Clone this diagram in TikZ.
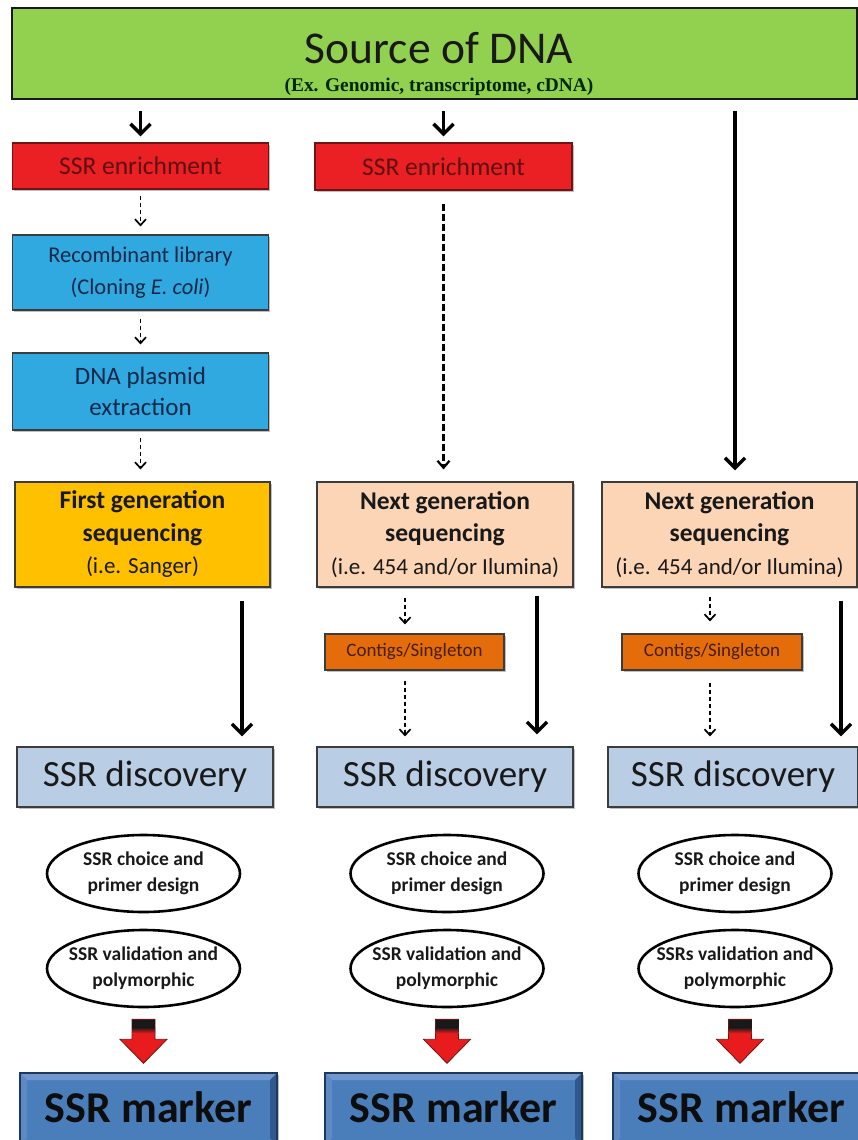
\documentclass[tikz,border=0pt]{standalone}
\usepackage{fontspec}
\setmainfont{Carlito}
\newfontfamily\serifb{Liberation Serif}
\usetikzlibrary{arrows.meta,shapes.geometric,shadows,calc}

\definecolor{cgreen}{RGB}{146,208,80}
\definecolor{cred}{RGB}{235,32,36}
\definecolor{credline}{RGB}{110,20,20}
\definecolor{credtext}{RGB}{95,15,15}
\definecolor{cblue}{RGB}{48,168,224}
\definecolor{cbluetext}{RGB}{18,40,72}
\definecolor{cyellow}{RGB}{255,192,0}
\definecolor{cpeach}{RGB}{251,213,181}
\definecolor{corange}{RGB}{228,108,10}
\definecolor{corangetext}{RGB}{70,30,5}
\definecolor{cdisc}{RGB}{185,205,229}
\definecolor{cmark}{RGB}{74,126,187}
\definecolor{cmarktop}{RGB}{112,152,206}
\definecolor{cmarkleft}{RGB}{92,138,196}
\definecolor{cmarkright}{RGB}{48,88,140}
\definecolor{cmarkline}{RGB}{30,55,90}
\definecolor{cline}{RGB}{60,60,60}
\definecolor{cblock}{RGB}{232,28,28}
\definecolor{ctext}{RGB}{25,25,25}

\begin{document}
\begin{tikzpicture}[x=1pt,y=-1pt,
  shadowed/.style={drop shadow={shadow xshift=1.5pt,shadow yshift=-1.5pt,opacity=0.25,fill=black}},
  box/.style={draw=cline,line width=1.1pt,inner sep=0pt,align=center,shadowed},
  bannerbox/.style={draw=black!90,line width=2.5pt,fill=cgreen,inner sep=0pt,minimum width=845pt,minimum height=91pt},
  enrbox/.style={box,fill=cred,draw=credline,text=credtext,font=\fontsize{25.5}{28}\selectfont,minimum height=46pt},
  libbox/.style={box,fill=cblue,text=cbluetext,minimum width=256pt},
  seqbox/.style={box,text=ctext,minimum height=105pt,font=\fontsize{23}{32.5}\selectfont},
  ctbox/.style={box,fill=corange,text=corangetext,minimum height=36pt,font=\fontsize{19}{22}\selectfont},
  discbox/.style={box,fill=cdisc,draw=cline,text=ctext,minimum height=60pt,font=\fontsize{37}{40}\selectfont},
  oval/.style={ellipse,draw=black,line width=2.6pt,fill=white,inner sep=0pt,minimum width=193pt,minimum height=77pt},
  ovaltext/.style={align=center,inner sep=0pt,text=ctext,font=\bfseries\fontsize{19.5}{26}\selectfont},
  markbox/.style={draw=cmarkline,line width=1.4pt,fill=cmark,inner sep=0pt,minimum width=257pt,minimum height=72pt,text=black!95,font=\bfseries\fontsize{44}{48}\selectfont,shadowed,
    path picture={
      \fill[cmarktop] (path picture bounding box.north west) -- (path picture bounding box.north east)
        -- ([shift={(-7pt,-7pt)}]path picture bounding box.north east) -- ([shift={(7pt,-7pt)}]path picture bounding box.north west) -- cycle;
      \fill[cmarkleft] (path picture bounding box.north west) -- ([shift={(7pt,-7pt)}]path picture bounding box.north west)
        -- ([shift={(7pt,7pt)}]path picture bounding box.south west) -- (path picture bounding box.south west) -- cycle;
      \fill[cmarkright] (path picture bounding box.north east) -- ([shift={(-7pt,-7pt)}]path picture bounding box.north east)
        -- ([shift={(-7pt,7pt)}]path picture bounding box.south east) -- (path picture bounding box.south east) -- cycle;
    }},
  thickarrow/.style={line width=3.5pt,-{Straight Barb[length=10pt,width=20pt]}},
  dasharrow/.style={line width=1.7pt,dash pattern=on 4.5pt off 2.5pt,-{Straight Barb[length=6pt,width=11pt]}},
  longdash/.style={line width=2.2pt,dash pattern=on 7pt off 3pt,-{Straight Barb[length=7pt,width=12pt]}},
  blockarrow/.style={fill=cblock,draw=credline,line width=0.8pt}
]
\useasboundingbox (0,0) rectangle (858,1140);

% banner
\node[bannerbox] (banner) at (434.5,53.5) {};
\node[text=ctext,font=\fontsize{45.5}{50}\selectfont,inner sep=0pt] (title) at (439,48) {Source of DNA};
\node[text=black!85!green,font=\serifb\bfseries\fontsize{19.4}{22}\selectfont,inner sep=0pt] (sub) at (439,87) {(Ex. Genomic, transcriptome, cDNA)};

% left column
\node[enrbox,minimum width=256pt] (enr1) at (140.5,166) {SSR enrichment};
\node[libbox,minimum height=75pt,font=\fontsize{22.5}{32}\selectfont] (rec) at (140.5,272.5) {Recombinant library\\(Cloning \emph{E. coli})};
\node[libbox,minimum height=77pt,font=\fontsize{25}{31}\selectfont] (dna) at (140.5,391.5) {DNA plasmid\\extraction};
\node[seqbox,fill=cyellow,minimum width=255pt] (fg) at (142.5,534.5) {{\bfseries\fontsize{25.5}{32.5}\selectfont First generation}\\{\bfseries\fontsize{25.5}{32.5}\selectfont sequencing}\\(i.e. Sanger)};

% middle column
\node[enrbox,minimum width=257pt,minimum height=47pt] (enr2) at (443.5,166.5) {SSR enrichment};
\node[seqbox,fill=cpeach,minimum width=256pt] (ng2) at (445,534.5) {{\bfseries\fontsize{25.5}{32.5}\selectfont Next generation}\\{\bfseries\fontsize{25.5}{32.5}\selectfont sequencing}\\(i.e. 454 and/or Ilumina)};
\node[ctbox,minimum width=179pt] (ct2) at (414.5,652) {Contigs/Singleton};

% right column
\node[seqbox,fill=cpeach,minimum width=255pt] (ng3) at (729.5,534.5) {{\bfseries\fontsize{25.5}{32.5}\selectfont Next generation}\\{\bfseries\fontsize{25.5}{32.5}\selectfont sequencing}\\(i.e. 454 and/or Ilumina)};
\node[ctbox,minimum width=180pt] (ct3) at (712,652) {Contigs/Singleton};

% SSR discovery
\node[discbox,minimum width=256pt] (sd1) at (145,777) {SSR discovery};
\node[discbox,minimum width=256pt] (sd2) at (445,777) {SSR discovery};
\node[discbox,minimum width=250pt] (sd3) at (733,777) {SSR discovery};

% ellipses
\node[oval,label={[ovaltext]center:SSR choice and\\primer design}] (e11) at (143.5,873.5) {};
\node[oval,label={[ovaltext]center:SSR validation and\\polymorphic}] (e12) at (143.5,968.5) {};
\node[oval,label={[ovaltext]center:SSR choice and\\primer design}] (e21) at (447,873.5) {};
\node[oval,label={[ovaltext]center:SSR validation and\\polymorphic}] (e22) at (447,968.5) {};
\node[oval,label={[ovaltext]center:SSR choice and\\primer design}] (e31) at (735,873.5) {};
\node[oval,label={[ovaltext]center:SSRs validation and\\polymorphic}] (e32) at (735,968.5) {};

% SSR markers
\node[markbox] (mk1) at (148.5,1109) {\raisebox{3pt}{SSR marker}};
\node[markbox] (mk2) at (453.5,1109) {\raisebox{3pt}{SSR marker}};
\node[markbox] (mk3) at (741.5,1109) {\raisebox{3pt}{SSR marker}};

% connectors from the banner
\draw[thickarrow,shorten <=11pt,shorten >=6pt] (enr1.north |- banner.south) -- (enr1.north);
\draw[thickarrow,shorten <=11pt,shorten >=6pt] (enr2.north |- banner.south) -- (enr2.north);
\coordinate (r3) at ([xshift=5.5pt]ng3.north);
\draw[thickarrow,shorten <=11pt,shorten >=11pt] (r3 |- banner.south) -- (r3);

% left column dashed
\draw[dasharrow,shorten <=6pt,shorten >=8pt] (enr1.south) -- (rec.north);
\draw[dasharrow,shorten <=8pt,shorten >=8pt] (rec.south) -- (dna.north);
\draw[dasharrow,shorten <=7pt,shorten >=12pt] (dna.south) -- (dna.south |- fg.north);

% middle dashed
\draw[longdash,shorten <=13pt,shorten >=12pt] (enr2.south) -- (enr2.south |- ng2.north);
\coordinate (c2n) at ([xshift=-9.5pt]ct2.north);
\coordinate (c2s) at ([xshift=-9.5pt]ct2.south);
\draw[dasharrow,shorten <=10pt,shorten >=9pt] (c2n |- ng2.south) -- (c2n);
\draw[dasharrow,shorten <=10pt,shorten >=10pt] (c2s) -- (c2s |- sd2.north);

% right dashed
\coordinate (c3n) at ([xshift=-2pt]ct3.north);
\coordinate (c3s) at ([xshift=-2pt]ct3.south);
\draw[dasharrow,shorten <=9pt,shorten >=12pt] (c3n |- ng3.south) -- (c3n);
\draw[dasharrow,shorten <=12pt,shorten >=10pt] (c3s) -- (c3s |- sd3.north);

% solid long arrows to SSR discovery
\coordinate (f1) at ([xshift=99.5pt]fg.south);
\draw[thickarrow,shorten <=13pt,shorten >=10pt] (f1) -- (f1 |- sd1.north);
\coordinate (f2) at ([xshift=92pt]ng2.south);
\draw[thickarrow,shorten <=8pt,shorten >=12pt] (f2) -- (f2 |- sd2.north);
\coordinate (f3) at ([xshift=111.5pt]ng3.south);
\draw[thickarrow,shorten <=13pt,shorten >=10pt] (f3) -- (f3 |- sd3.north);

% red block arrows
\foreach \e/\dx/\i in {e12/0/1,e22/0/2,e32/5/3}{
  \coordinate (ra\i) at ($(\e.south)+(\dx,11)$);
  \begin{scope}[shift={(ra\i)}]
    \path[blockarrow] (-11.5,0) -- (11.5,0) -- (11.5,20) -- (23.5,20) -- (0,44) -- (-23.5,20) -- (-11.5,20) -- cycle;
    \fill[black!90] (-11.5,0) rectangle (11.5,8);
    \shade[top color=black!90,bottom color=cblock] (-11.5,8) rectangle (11.5,14);
    \draw[credline,line width=0.8pt] (-11.5,0) -- (11.5,0);
  \end{scope}
}
\end{tikzpicture}
\end{document}
